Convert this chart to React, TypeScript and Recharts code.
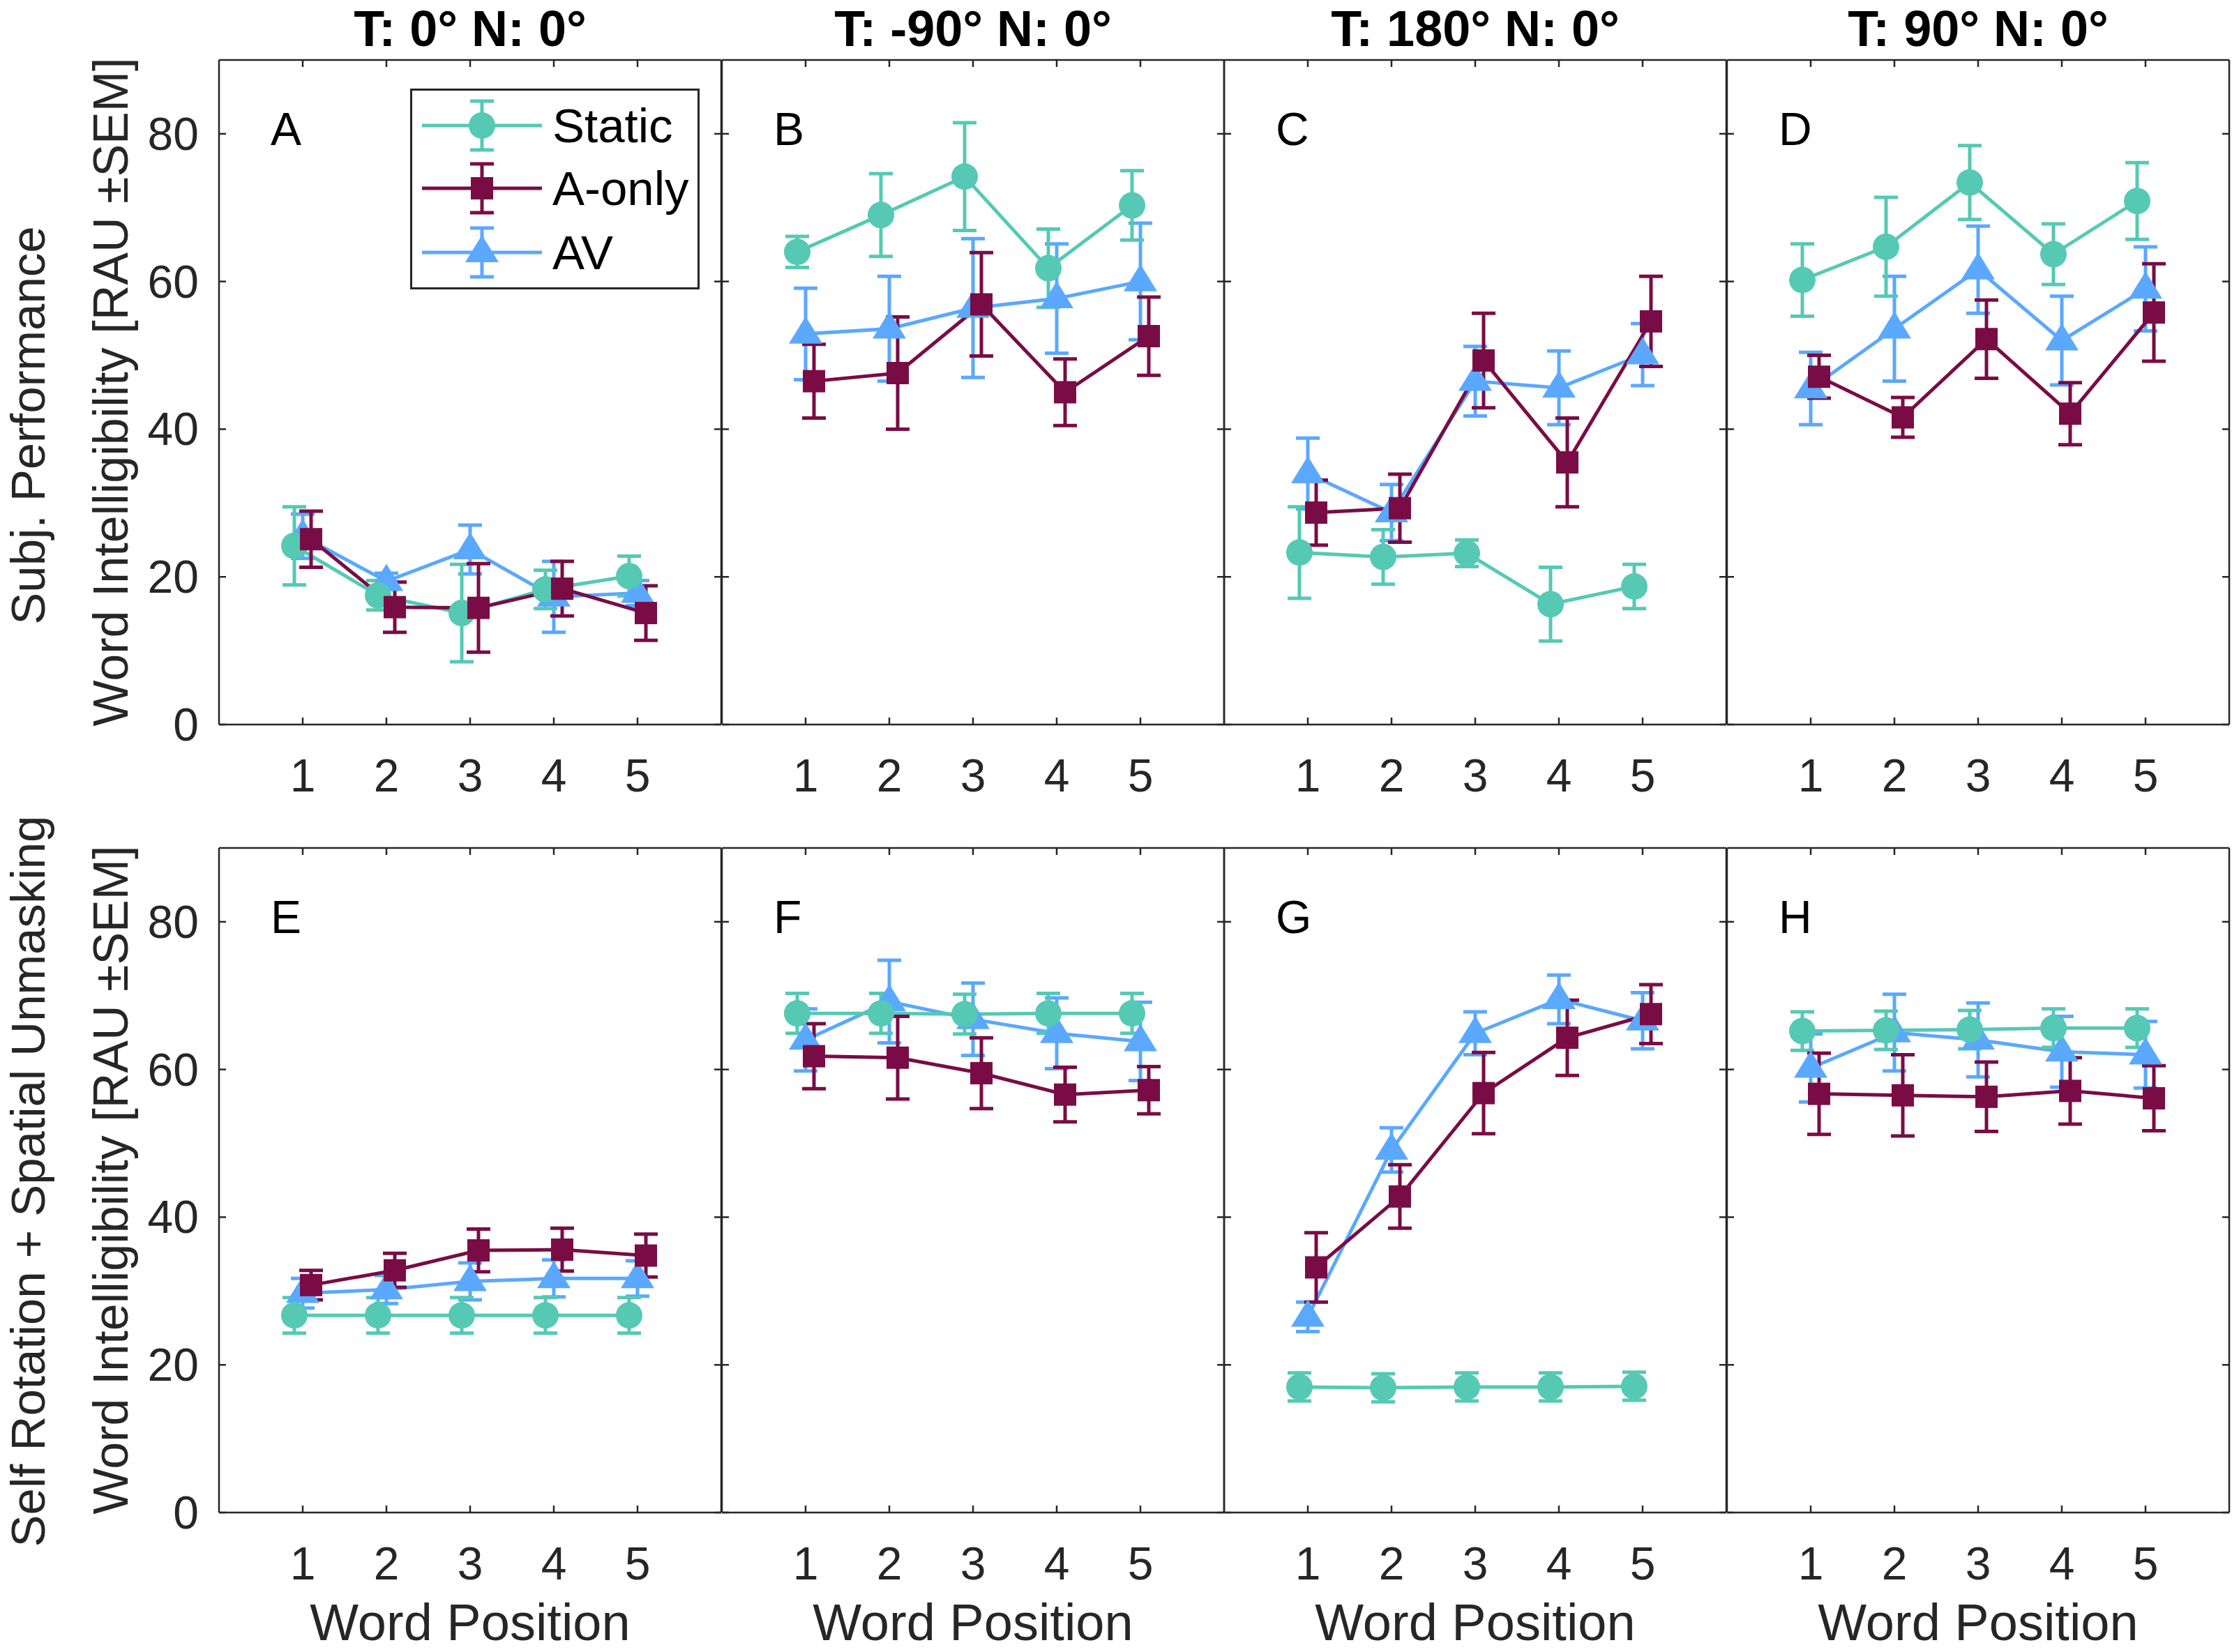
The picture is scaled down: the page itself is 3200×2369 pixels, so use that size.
import { LineChart, Line, XAxis, YAxis, ErrorBar } from 'recharts'

// word positions and axis ticks
const positions = [1, 2, 3, 4, 5]
const yTicks = [0, 20, 40, 60, 80]

const panelLetters = ['A', 'B', 'C', 'D', 'E', 'F', 'G', 'H']
const columnTitles = ['T: 0° N: 0°', 'T: -90° N: 0°', 'T: 180° N: 0°', 'T: 90° N: 0°']
const rowLabels = ['Subj. Performance', 'Self Rotation + Spatial Unmasking']
const yLabel = 'Word Intelligibility [RAU ±SEM]'
const xLabel = 'Word Position'

// one row per panel (A..H), one value per word position
const staticMean = [
  [24.2, 17.5, 15.1, 18.3, 20.1],
  [64.0, 69.0, 74.2, 61.8, 70.3],
  [23.3, 22.7, 23.2, 16.3, 18.7],
  [60.2, 64.7, 73.4, 63.7, 70.9],
  [26.7, 26.7, 26.7, 26.7, 26.7],
  [67.6, 67.6, 67.5, 67.6, 67.6],
  [17.0, 16.9, 17.0, 17.0, 17.1],
  [65.2, 65.3, 65.4, 65.6, 65.6],
]
const staticSem = [
  [5.3, 2.0, 6.6, 2.6, 2.7],
  [2.1, 5.6, 7.3, 5.3, 4.7],
  [6.2, 3.7, 1.8, 5.0, 3.0],
  [4.9, 6.7, 5.0, 4.1, 5.2],
  [2.4, 2.4, 2.4, 2.4, 2.4],
  [2.7, 2.7, 2.7, 2.7, 2.7],
  [1.9, 1.9, 1.9, 1.9, 1.9],
  [2.6, 2.6, 2.6, 2.6, 2.6],
]
const aOnlyMean = [
  [25.1, 15.9, 15.8, 18.4, 15.1],
  [46.5, 47.6, 56.9, 45.0, 52.6],
  [28.7, 29.3, 49.3, 35.5, 54.6],
  [47.1, 41.6, 52.2, 42.1, 55.8],
  [30.8, 32.8, 35.5, 35.6, 34.8],
  [61.8, 61.6, 59.5, 56.6, 57.2],
  [33.2, 42.8, 56.8, 64.3, 67.5],
  [56.7, 56.5, 56.3, 57.1, 56.1],
]
const aOnlySem = [
  [3.8, 3.4, 6.0, 3.7, 3.7],
  [5.0, 7.6, 7.0, 4.5, 5.3],
  [4.4, 4.6, 6.4, 6.0, 6.1],
  [2.9, 2.7, 5.3, 4.2, 6.6],
  [2.0, 2.3, 2.9, 2.9, 2.9],
  [4.4, 5.6, 4.8, 3.7, 3.2],
  [4.7, 4.3, 5.5, 5.1, 4.0],
  [5.5, 5.5, 4.7, 4.5, 4.4],
]
const avMean = [
  [25.5, 19.4, 23.7, 17.3, 17.8],
  [52.9, 53.6, 56.4, 57.7, 60.0],
  [34.0, 28.7, 46.5, 45.6, 50.1],
  [45.5, 53.6, 61.6, 52.0, 59.0],
  [29.7, 30.2, 31.3, 31.7, 31.7],
  [64.0, 69.2, 66.8, 64.9, 63.8],
  [26.5, 49.1, 64.9, 69.5, 66.6],
  [60.2, 65.0, 64.0, 62.4, 62.0],
]
const avSem = [
  [3.0, 1.1, 3.3, 4.8, 1.7],
  [6.2, 7.1, 9.4, 7.4, 7.9],
  [4.8, 3.8, 4.7, 5.0, 4.2],
  [4.9, 7.1, 5.9, 6.0, 5.7],
  [2.0, 1.9, 2.5, 2.5, 2.4],
  [4.2, 5.6, 4.9, 4.8, 5.3],
  [2.0, 3.0, 2.9, 3.3, 3.8],
  [4.6, 5.2, 5.0, 4.8, 4.5],
]

const AXIS = '#262626'
const FONT = '"Liberation Sans", Arial, Helvetica, sans-serif'
const TEAL = '#55C9B4'
const MAROON = '#7A0C45'
const BLUE = '#5AA8FF'

const PANEL_LEFT = [314, 1035, 1755, 2476]
const ROW_TOP = [86, 1216]
const PANEL_W = 720
const PANEL_H = 953
const TICK = 10

// drawing order: AV, Static, A-only (A-only on top)
const series = [
  { name: 'AV', mean: avMean, sem: avSem, color: BLUE, shape: 'triangle', dx: 0 },
  { name: 'Static', mean: staticMean, sem: staticSem, color: TEAL, shape: 'circle', dx: -0.1 },
  { name: 'A-only', mean: aOnlyMean, sem: aOnlySem, color: MAROON, shape: 'square', dx: 0.1 },
]
const legendOrder = ['Static', 'A-only', 'AV']

function Marker({ shape, cx, cy, color }: any) {
  if (shape === 'circle') return <circle cx={cx} cy={cy} r={19} fill={color} />
  if (shape === 'square') return <rect x={cx - 16} y={cy - 16} width={32} height={32} fill={color} />
  return <polygon points={`${cx},${cy - 25} ${cx - 24},${cy + 14} ${cx + 24},${cy + 14}`} fill={color} />
}

const BottomTick = ({ x, y, payload }: any) => (
  <g>
    <line x1={x} y1={y} x2={x} y2={y - TICK} stroke={AXIS} strokeWidth={2.5} />
    <text x={x} y={y + 73} textAnchor="middle" dominantBaseline="central" fontSize={66} fontFamily={FONT} fill={AXIS}>
      {payload.value}
    </text>
  </g>
)
const TopTick = ({ x, y }: any) => <line x1={x} y1={y} x2={x} y2={y + TICK} stroke={AXIS} strokeWidth={2.5} />
const RightTick = ({ x, y }: any) => <line x1={x} y1={y} x2={x - TICK} y2={y} stroke={AXIS} strokeWidth={2.5} />
const LeftTick = ({ x, y, payload, showLabel }: any) => (
  <g>
    <line x1={x} y1={y} x2={x + TICK} y2={y} stroke={AXIS} strokeWidth={2.5} />
    {showLabel && (
      <text x={x - 29} y={y} textAnchor="end" dominantBaseline="central" fontSize={66} fontFamily={FONT} fill={AXIS}>
        {payload.value}
      </text>
    )}
  </g>
)

function Panel({ index }: { index: number }) {
  const row = Math.floor(index / 4)
  const col = index % 4
  const L = col === 0 ? PANEL_LEFT[0] : 20
  const T = 20
  const R = 20
  const B = 130
  const axisLine = { stroke: AXIS, strokeWidth: 2.5 }
  return (
    <div style={{ position: 'absolute', left: PANEL_LEFT[col] - L, top: ROW_TOP[row] - T }}>
      <LineChart width={L + PANEL_W + R} height={T + PANEL_H + B} margin={{ top: 0, right: 0, bottom: 0, left: 0 }}>
        <XAxis xAxisId="b" dataKey="x" type="number" domain={[0, 6]} ticks={positions} interval={0} allowDataOverflow
          height={B} tickSize={0} tickMargin={0} axisLine={axisLine} tickLine={false} tick={(p: any) => <BottomTick {...p} />} />
        <XAxis xAxisId="t" orientation="top" dataKey="x" type="number" domain={[0, 6]} ticks={positions} interval={0} allowDataOverflow
          height={T} tickSize={0} tickMargin={0} axisLine={axisLine} tickLine={false} tick={(p: any) => <TopTick {...p} />} />
        <YAxis yAxisId="l" type="number" domain={[0, 90]} ticks={yTicks} interval={0} allowDataOverflow
          width={L} tickSize={0} tickMargin={0} axisLine={axisLine} tickLine={false}
          tick={(p: any) => <LeftTick {...p} showLabel={col === 0} />} />
        <YAxis yAxisId="r" orientation="right" type="number" domain={[0, 90]} ticks={yTicks} interval={0} allowDataOverflow
          width={R} tickSize={0} tickMargin={0} axisLine={axisLine} tickLine={false} tick={(p: any) => <RightTick {...p} />} />
        {series.map((s) => (
          <Line
            key={s.name}
            xAxisId="b"
            yAxisId="l"
            data={positions.map((pos, i) => ({ x: pos + s.dx, y: s.mean[index][i], e: s.sem[index][i] }))}
            dataKey="y"
            type="linear"
            stroke={s.color}
            strokeWidth={5}
            isAnimationActive={false}
            activeDot={false}
            legendType="none"
            dot={(p: any) => <Marker key={`${s.name}-${p.index}`} shape={s.shape} cx={p.cx} cy={p.cy} color={s.color} />}
          >
            <ErrorBar dataKey="e" direction="y" width={17} strokeWidth={5} stroke={s.color} isAnimationActive={false} />
          </Line>
        ))}
      </LineChart>
    </div>
  )
}

function Legend() {
  const rows = [180, 270, 362]
  return (
    <g>
      <rect x={589.5} y={128.5} width={412} height={285} fill="#fff" stroke={AXIS} strokeWidth={3} />
      {legendOrder.map((name, i) => {
        const s = series.find((d) => d.name === name)!
        const cy = rows[i]
        return (
          <g key={name}>
            <line x1={605} y1={cy} x2={777} y2={cy} stroke={s.color} strokeWidth={5} />
            <line x1={691} y1={cy - 35} x2={691} y2={cy + 35} stroke={s.color} strokeWidth={5} />
            <line x1={674} y1={cy - 35} x2={708} y2={cy - 35} stroke={s.color} strokeWidth={5} />
            <line x1={674} y1={cy + 35} x2={708} y2={cy + 35} stroke={s.color} strokeWidth={5} />
            <Marker shape={s.shape} cx={691} cy={cy} color={s.color} />
            <text x={792} y={cy} dominantBaseline="central" fontSize={69} fontFamily={FONT} fill="#000">
              {name}
            </text>
          </g>
        )
      })}
    </g>
  )
}

export default function App() {
  return (
    <div style={{ position: 'absolute', left: 0, top: 0, width: 3200, height: 2369, background: '#fff', fontFamily: FONT }}>
      {panelLetters.map((_, i) => (
        <Panel key={i} index={i} />
      ))}
      <svg width={3200} height={2369} style={{ position: 'absolute', left: 0, top: 0, pointerEvents: 'none' }}>
        {columnTitles.map((t, c) => (
          <text key={t} x={PANEL_LEFT[c] + PANEL_W / 2} y={66} textAnchor="middle"
            fontSize={72} fontWeight="bold" fontFamily={FONT} fill="#000">
            {t}
          </text>
        ))}
        {panelLetters.map((l, i) => (
          <text key={l} x={PANEL_LEFT[i % 4] + 74} y={ROW_TOP[Math.floor(i / 4)] + 99} dominantBaseline="central"
            fontSize={66} fontFamily={FONT} fill="#000">
            {l}
          </text>
        ))}
        {PANEL_LEFT.map((left) => (
          <text key={left} x={left + PANEL_W / 2} y={2352} textAnchor="middle"
            fontSize={74} fontFamily={FONT} fill={AXIS}>
            {xLabel}
          </text>
        ))}
        <text transform="translate(40,610) rotate(-90)" textAnchor="middle" dominantBaseline="central" fontSize={69} fontFamily={FONT} fill={AXIS}>
          {rowLabels[0]}
        </text>
        <text transform="translate(159,562) rotate(-90)" textAnchor="middle" dominantBaseline="central" fontSize={70} fontFamily={FONT} fill={AXIS}>
          {yLabel}
        </text>
        <text transform="translate(40,1694) rotate(-90)" textAnchor="middle" dominantBaseline="central" fontSize={69} fontFamily={FONT} fill={AXIS}>
          {rowLabels[1]}
        </text>
        <text transform="translate(159,1692) rotate(-90)" textAnchor="middle" dominantBaseline="central" fontSize={70} fontFamily={FONT} fill={AXIS}>
          {yLabel}
        </text>
        <Legend />
      </svg>
    </div>
  )
}
